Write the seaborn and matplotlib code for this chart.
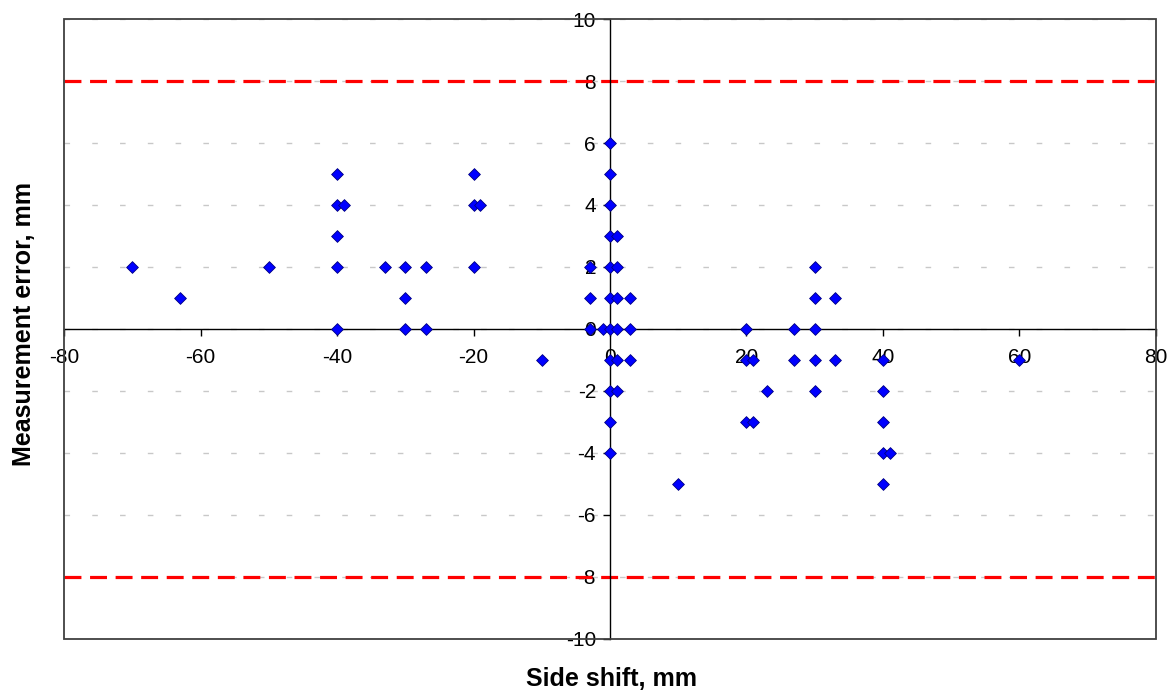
import numpy as np
import pandas as pd
import matplotlib
matplotlib.use("Agg")
import matplotlib.pyplot as plt
import seaborn as sns
from matplotlib.patches import Rectangle

# 数据: 侧向偏移 (mm) 与 测量误差 (mm)
side_shift = [-70, -63, -50,
              -40, -40, -40, -40, -40, -39,
              -33, -30, -30, -30, -27, -27,
              -20, -20, -20, -19, -10,
              -3, -3, -3, -1,
              0, 0, 0, 0, 0, 0, 0, 0, 0, 0, 0,
              1, 1, 1, 1, 1, 1,
              3, 3, 3,
              10,
              20, 20, 20, 21, 21, 23,
              27, 27, 30, 30, 30, 30, 30, 33, 33,
              40, 40, 40, 40, 40, 41, 60]
meas_error = [2, 1, 2,
              5, 4, 3, 2, 0, 4,
              2, 2, 1, 0, 2, 0,
              5, 4, 2, 4, -1,
              2, 1, 0, 0,
              6, 5, 4, 3, 2, 1, 0, -1, -2, -3, -4,
              3, 2, 1, 0, -1, -2,
              1, 0, -1,
              -5,
              0, -1, -3, -1, -3, -2,
              0, -1, 2, 1, 0, -1, -2, 1, -1,
              -1, -2, -3, -4, -5, -4, -1]
limit_lines = [8, -8]

x_ticks = list(range(-80, 81, 20))
y_ticks = list(range(-10, 11, 2))

df = pd.DataFrame({"shift": side_shift, "error": meas_error})

sns.set_style("white")
plt.rcParams["font.family"] = ["Liberation Sans", "DejaVu Sans"]
plt.rcParams["axes.unicode_minus"] = False

fig = plt.figure(figsize=(11.75, 6.96), dpi=100)
ax = fig.add_axes([0.0545, 0.0819, 0.9293, 0.8908])

# 网格线
for yv in y_ticks:
    ax.axhline(yv, color="#c8c8c8", lw=1.0, ls=(0, (4, 16)), zorder=0)

# 限值线
for yv in limit_lines:
    ax.axhline(yv, color="#ff0000", lw=2.3, ls=(0, (5.3, 2.7)), zorder=1)

sns.scatterplot(data=df, x="shift", y="error", marker="D", s=36,
                color="#0000ff", edgecolor="#000080", linewidth=0.6,
                ax=ax, zorder=3, legend=False)

ax.set_xlim(-80, 80)
ax.set_ylim(-10, 10)
ax.set_xticks(x_ticks)
ax.set_yticks(y_ticks)

# 坐标轴穿过原点
for side in ["top", "right"]:
    ax.spines[side].set_visible(False)
ax.spines["left"].set_position(("data", 0))
ax.spines["bottom"].set_position(("data", 0))
ax.spines["left"].set_color("black")
ax.spines["bottom"].set_color("black")
ax.spines["left"].set_linewidth(1.0)
ax.spines["bottom"].set_linewidth(1.0)
ax.add_patch(Rectangle((0, 0), 1, 1, transform=ax.transAxes, fill=False,
                       edgecolor="#404040", lw=1.3, zorder=5, clip_on=False))

ax.tick_params(axis="both", labelsize=15, direction="out", length=5,
               width=1, color="black", labelcolor="black", pad=5)
ax.tick_params(axis="x", bottom=True, pad=9)
ax.tick_params(axis="y", left=True)

ax.set_xlabel("")
ax.set_ylabel("")
fig.text(0.52, 0.0244, "Side shift, mm", ha="center", va="center",
         fontsize=18, fontweight="bold", color="black")
fig.text(0.0204, 0.534, "Measurement error, mm", ha="center", va="center",
         rotation=90, fontsize=18, fontweight="bold", color="black")

fig.savefig("out.png", dpi=100)
